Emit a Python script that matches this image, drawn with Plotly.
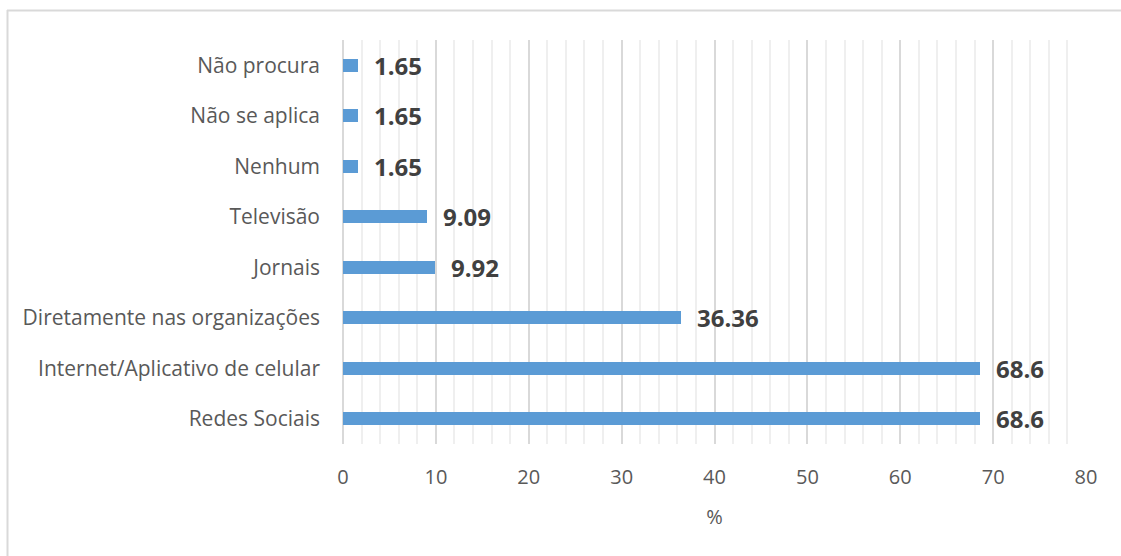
import plotly.graph_objects as go

categories = ["Redes Sociais", "Internet/Aplicativo de celular", "Diretamente nas organizações",
              "Jornais", "Televisão", "Nenhum", "Não se aplica", "Não procura"]
values = [68.6, 68.6, 36.36, 9.92, 9.09, 1.65, 1.65, 1.65]
labels = ["68.6", "68.6", "36.36", "9.92", "9.09", "1.65", "1.65", "1.65"]
x_ticks = [0, 10, 20, 30, 40, 50, 60, 70, 80]

W, H = 1121, 556
L, R, T, B = 343, 35, 40, 112
FONT = "'Open Sans', sans-serif"

fig = go.Figure()
fig.add_trace(go.Bar(
    y=categories, x=values, orientation="h",
    marker=dict(color="#5B9BD5", line=dict(width=0)),
    width=0.26, hoverinfo="skip",
))

for c, v, t in zip(categories, values, labels):
    fig.add_annotation(x=v, y=c, text="<b>%s</b>" % t, showarrow=False,
                       xanchor="left", yanchor="middle", xshift=14, yshift=0,
                       font=dict(family=FONT, size=24, color="#404040"))

pw = W - L - R
ph = H - T - B
def px_to_paper_x(px):
    return (px - L) / pw
def px_to_paper_y(py):
    return (H - B - py) / ph

fig.add_shape(type="line", xref="paper", yref="paper",
              x0=px_to_paper_x(7), x1=px_to_paper_x(1121),
              y0=px_to_paper_y(10.5), y1=px_to_paper_y(10.5),
              line=dict(color="#d9d9d9", width=2))
fig.add_shape(type="line", xref="paper", yref="paper",
              x0=px_to_paper_x(7.5), x1=px_to_paper_x(7.5),
              y0=px_to_paper_y(10), y1=px_to_paper_y(556),
              line=dict(color="#d9d9d9", width=2))

fig.update_layout(
    width=W, height=H,
    margin=dict(l=L, r=R, t=T, b=B, pad=0),
    paper_bgcolor="white", plot_bgcolor="white",
    showlegend=False,
    font=dict(family=FONT, size=20, color="#595959"),
    bargap=0,
    xaxis=dict(
        range=[0, 80], tickvals=x_ticks, ticktext=[str(v) for v in x_ticks],
        showgrid=True, gridcolor="#d9d9d9", gridwidth=2,
        zeroline=True, zerolinecolor="#d9d9d9", zerolinewidth=2,
        showline=False, ticks="", ticklen=0,
        tickfont=dict(family=FONT, size=20, color="#595959"),
        ticklabelstandoff=19,
        minor=dict(dtick=2, showgrid=True, gridcolor="#efefef", gridwidth=2, tick0=0),
        title=dict(text="%", font=dict(family=FONT, size=20, color="#595959"), standoff=20),
        fixedrange=True,
    ),
    yaxis=dict(
        categoryorder="array", categoryarray=categories,
        showgrid=False, showline=False, ticks="", ticklen=0,
        tickfont=dict(family=FONT, size=21, color="#595959"),
        ticklabelstandoff=22,
        fixedrange=True,
    ),
)

fig.write_html("out.html")
